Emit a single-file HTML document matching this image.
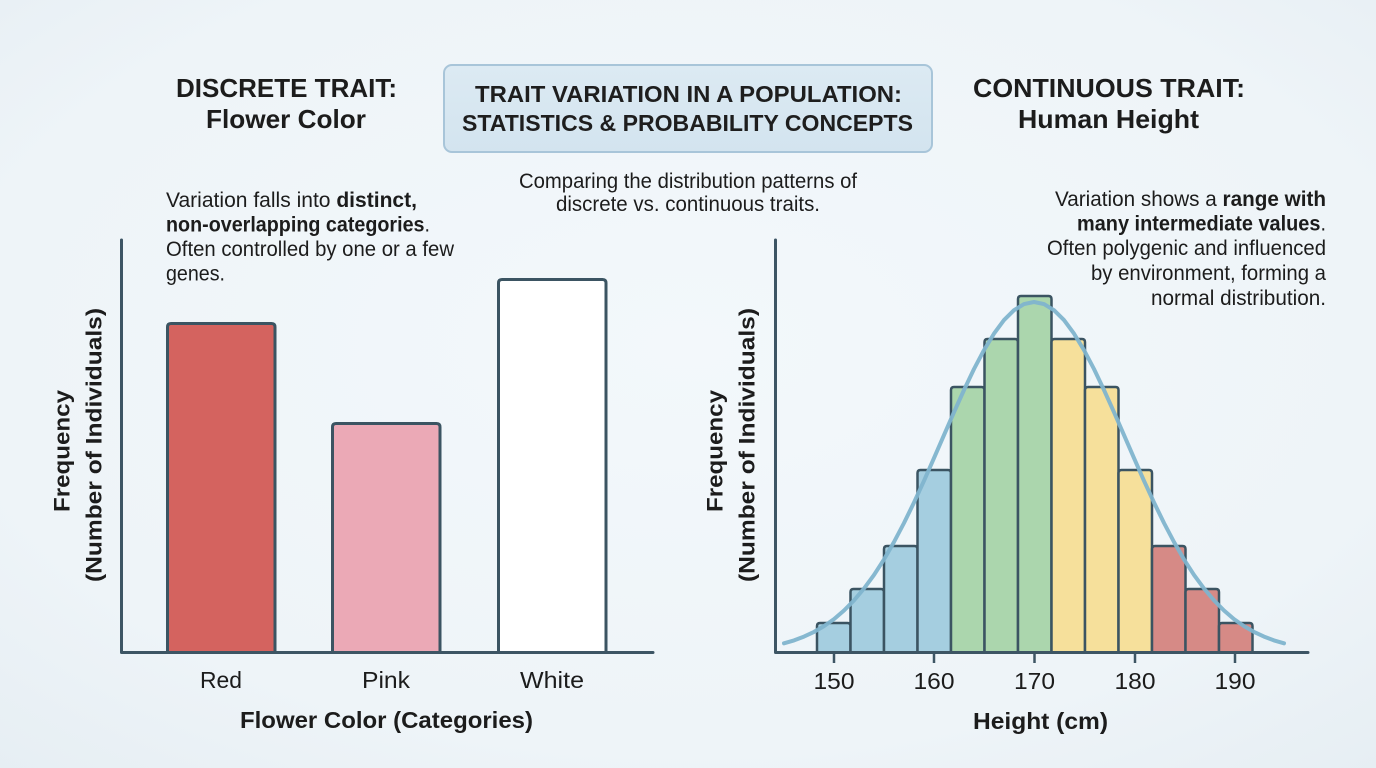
<!DOCTYPE html>
<html>
<head>
<meta charset="utf-8">
<style>
  html,body{margin:0;padding:0;width:1376px;height:768px;overflow:hidden;background:#eef4f8;}
  svg{display:block;}
  text{font-family:"Liberation Sans",Arial,sans-serif;fill:#1c1c1c;}
  .t{font-weight:bold;font-size:26px;}
  .bx{font-weight:bold;font-size:23px;fill:#1e1e1e;}
  .d{font-size:21px;}
  .b{font-weight:bold;}
  .ax{font-size:23px;}
  .axt{font-weight:bold;font-size:23px;}
  .yl{font-weight:bold;font-size:22px;}
</style>
</head>
<body>
<svg width="1376" height="768" viewBox="0 0 1376 768" xmlns="http://www.w3.org/2000/svg">
  <defs>
    <radialGradient id="bg" cx="50%" cy="45%" r="75%">
      <stop offset="0" stop-color="#f3f8fb"/>
      <stop offset="0.7" stop-color="#eef4f8"/>
      <stop offset="1" stop-color="#e6eef3"/>
    </radialGradient>
    <linearGradient id="box" x1="0" y1="0" x2="0" y2="1">
      <stop offset="0" stop-color="#dceaf3"/>
      <stop offset="1" stop-color="#d3e4ef"/>
    </linearGradient>
  </defs>
  <rect x="0" y="0" width="1376" height="768" fill="url(#bg)"/>

  <!-- Titles -->
  <text class="t" x="176" y="97" textLength="221" lengthAdjust="spacingAndGlyphs">DISCRETE TRAIT:</text>
  <text class="t" x="206" y="128" textLength="160" lengthAdjust="spacingAndGlyphs">Flower Color</text>
  <text class="t" x="973" y="97" textLength="272" lengthAdjust="spacingAndGlyphs">CONTINUOUS TRAIT:</text>
  <text class="t" x="1018" y="128" textLength="181" lengthAdjust="spacingAndGlyphs">Human Height</text>

  <!-- Center box -->
  <rect x="444" y="65" width="488" height="87" rx="8" ry="8" fill="url(#box)" stroke="#a8c5d9" stroke-width="2"/>
  <text class="bx" x="475" y="102" textLength="427" lengthAdjust="spacingAndGlyphs">TRAIT VARIATION IN A POPULATION:</text>
  <text class="bx" x="462" y="131" textLength="451" lengthAdjust="spacingAndGlyphs">STATISTICS &amp; PROBABILITY CONCEPTS</text>

  <!-- Subtitle -->
  <text class="d" x="519" y="188" textLength="338" lengthAdjust="spacingAndGlyphs">Comparing the distribution patterns of</text>
  <text class="d" x="556" y="211" textLength="264" lengthAdjust="spacingAndGlyphs">discrete vs. continuous traits.</text>

  <!-- Left description -->
  <text class="d" x="166" y="207" textLength="251" lengthAdjust="spacingAndGlyphs">Variation falls into <tspan class="b">distinct,</tspan></text>
  <text class="d" x="166" y="231.5" textLength="264" lengthAdjust="spacingAndGlyphs"><tspan class="b">non-overlapping categories</tspan>.</text>
  <text class="d" x="166" y="256" textLength="288" lengthAdjust="spacingAndGlyphs">Often controlled by one or a few</text>
  <text class="d" x="166" y="280.5" textLength="59" lengthAdjust="spacingAndGlyphs">genes.</text>

  <!-- Right description -->
  <text class="d" x="1055" y="206" textLength="271" lengthAdjust="spacingAndGlyphs">Variation shows a <tspan class="b">range with</tspan></text>
  <text class="d" x="1077" y="230.5" textLength="249" lengthAdjust="spacingAndGlyphs"><tspan class="b">many intermediate values</tspan>.</text>
  <text class="d" x="1047" y="255" textLength="279" lengthAdjust="spacingAndGlyphs">Often polygenic and influenced</text>
  <text class="d" x="1091" y="280" textLength="235" lengthAdjust="spacingAndGlyphs">by environment, forming a</text>
  <text class="d" x="1151" y="305" textLength="175" lengthAdjust="spacingAndGlyphs">normal distribution.</text>

  <!-- LEFT CHART -->
  <g stroke="#3b5462" stroke-width="3" stroke-linejoin="round">
    <path d="M167.5 653 V327 Q167.5 323.5 171 323.5 H271.5 Q275 323.5 275 327 V653" fill="#d4635f"/>
    <path d="M332.5 653 V427 Q332.5 423.5 336 423.5 H436.5 Q440 423.5 440 427 V653" fill="#eba9b6"/>
    <path d="M498.5 653 V283 Q498.5 279.5 502 279.5 H602.5 Q606 279.5 606 283 V653" fill="#ffffff"/>
  </g>
  <path d="M121.5 240 V652.5 H653" fill="none" stroke="#3d5564" stroke-width="3" stroke-linecap="round" stroke-linejoin="round"/>

  <text class="ax" x="221" y="688" text-anchor="middle" textLength="42" lengthAdjust="spacingAndGlyphs">Red</text>
  <text class="ax" x="386" y="688" text-anchor="middle" textLength="48" lengthAdjust="spacingAndGlyphs">Pink</text>
  <text class="ax" x="552" y="688" text-anchor="middle" textLength="64" lengthAdjust="spacingAndGlyphs">White</text>
  <text class="axt" x="240" y="728" textLength="293" lengthAdjust="spacingAndGlyphs">Flower Color (Categories)</text>

  <text class="yl" transform="translate(62,451) rotate(-90)" text-anchor="middle" dominant-baseline="central" textLength="122" lengthAdjust="spacingAndGlyphs">Frequency</text>
  <text class="yl" transform="translate(94,445) rotate(-90)" text-anchor="middle" dominant-baseline="central" textLength="274" lengthAdjust="spacingAndGlyphs">(Number of Individuals)</text>

  <!-- RIGHT CHART -->
  <g stroke="#3b5462" stroke-width="2.5" stroke-linejoin="round">
    <path d="M817 653 V626 Q817 623 820 623 H847.5 Q850.5 623 850.5 626 V653" fill="#a5cee0"/>
    <path d="M850.5 653 V592 Q850.5 589 853.5 589 H881 Q884 589 884 592 V653" fill="#a5cee0"/>
    <path d="M884 653 V549 Q884 546 887 546 H914.5 Q917.5 546 917.5 549 V653" fill="#a5cee0"/>
    <path d="M917.5 653 V473 Q917.5 470 920.5 470 H948 Q951 470 951 473 V653" fill="#a5cee0"/>
    <path d="M951 653 V390 Q951 387 954 387 H981.5 Q984.5 387 984.5 390 V653" fill="#abd6ad"/>
    <path d="M984.5 653 V342 Q984.5 339 987.5 339 H1015 Q1018 339 1018 342 V653" fill="#abd6ad"/>
    <path d="M1018 653 V299 Q1018 296 1021 296 H1048.5 Q1051.5 296 1051.5 299 V653" fill="#abd6ad"/>
    <path d="M1051.5 653 V342 Q1051.5 339 1054.5 339 H1082 Q1085 339 1085 342 V653" fill="#f6e09b"/>
    <path d="M1085 653 V390 Q1085 387 1088 387 H1115.5 Q1118.5 387 1118.5 390 V653" fill="#f6e09b"/>
    <path d="M1118.5 653 V473 Q1118.5 470 1121.5 470 H1149 Q1152 470 1152 473 V653" fill="#f6e09b"/>
    <path d="M1152 653 V549 Q1152 546 1155 546 H1182.5 Q1185.5 546 1185.5 549 V653" fill="#d68a86"/>
    <path d="M1185.5 653 V592 Q1185.5 589 1188.5 589 H1216 Q1219 589 1219 592 V653" fill="#d68a86"/>
    <path d="M1219 653 V626 Q1219 623 1222 623 H1249.5 Q1252.5 623 1252.5 626 V653" fill="#d68a86"/>
  </g>

  <polyline fill="none" stroke="#7fb4cd" stroke-width="4" stroke-linecap="round" stroke-linejoin="round" opacity="0.95"
    points="784,643.3 794,640.4 804,636.6 814,631.9 824,626.1 834,619.1 844,610.5 854,600.4 864,588.5 874,574.9 884,559.4 894,542.0 904,523.0 914,502.5 924,480.8 934,458.1 944,435.1 954,412.2 964,390.0 974,369.0 984,350.1 994,333.6 1004,320.1 1014,310.2 1024,304.1 1034,302.0 1044,304.1 1054,310.2 1064,320.1 1074,333.6 1084,350.1 1094,369.0 1104,390.0 1114,412.2 1124,435.1 1134,458.1 1144,480.8 1154,502.5 1164,523.0 1174,542.0 1184,559.4 1194,574.9 1204,588.5 1214,600.4 1224,610.5 1234,619.1 1244,626.1 1254,631.9 1264,636.6 1274,640.4 1284,643.3"/>

  <path d="M775.5 240 V652.5 H1308" fill="none" stroke="#3d5564" stroke-width="3" stroke-linecap="round" stroke-linejoin="round"/>
  <g stroke="#3d5564" stroke-width="2.5">
    <line x1="834" y1="653" x2="834" y2="663"/>
    <line x1="934" y1="653" x2="934" y2="663"/>
    <line x1="1034.5" y1="653" x2="1034.5" y2="663"/>
    <line x1="1135" y1="653" x2="1135" y2="663"/>
    <line x1="1235" y1="653" x2="1235" y2="663"/>
  </g>
  <text class="ax" x="834" y="689" text-anchor="middle" textLength="41" lengthAdjust="spacingAndGlyphs">150</text>
  <text class="ax" x="934" y="689" text-anchor="middle" textLength="41" lengthAdjust="spacingAndGlyphs">160</text>
  <text class="ax" x="1034.5" y="689" text-anchor="middle" textLength="41" lengthAdjust="spacingAndGlyphs">170</text>
  <text class="ax" x="1135" y="689" text-anchor="middle" textLength="41" lengthAdjust="spacingAndGlyphs">180</text>
  <text class="ax" x="1235" y="689" text-anchor="middle" textLength="41" lengthAdjust="spacingAndGlyphs">190</text>
  <text class="axt" x="973" y="729" textLength="135" lengthAdjust="spacingAndGlyphs">Height (cm)</text>

  <text class="yl" transform="translate(715,451) rotate(-90)" text-anchor="middle" dominant-baseline="central" textLength="122" lengthAdjust="spacingAndGlyphs">Frequency</text>
  <text class="yl" transform="translate(747,445) rotate(-90)" text-anchor="middle" dominant-baseline="central" textLength="274" lengthAdjust="spacingAndGlyphs">(Number of Individuals)</text>
</svg>
</body>
</html>
